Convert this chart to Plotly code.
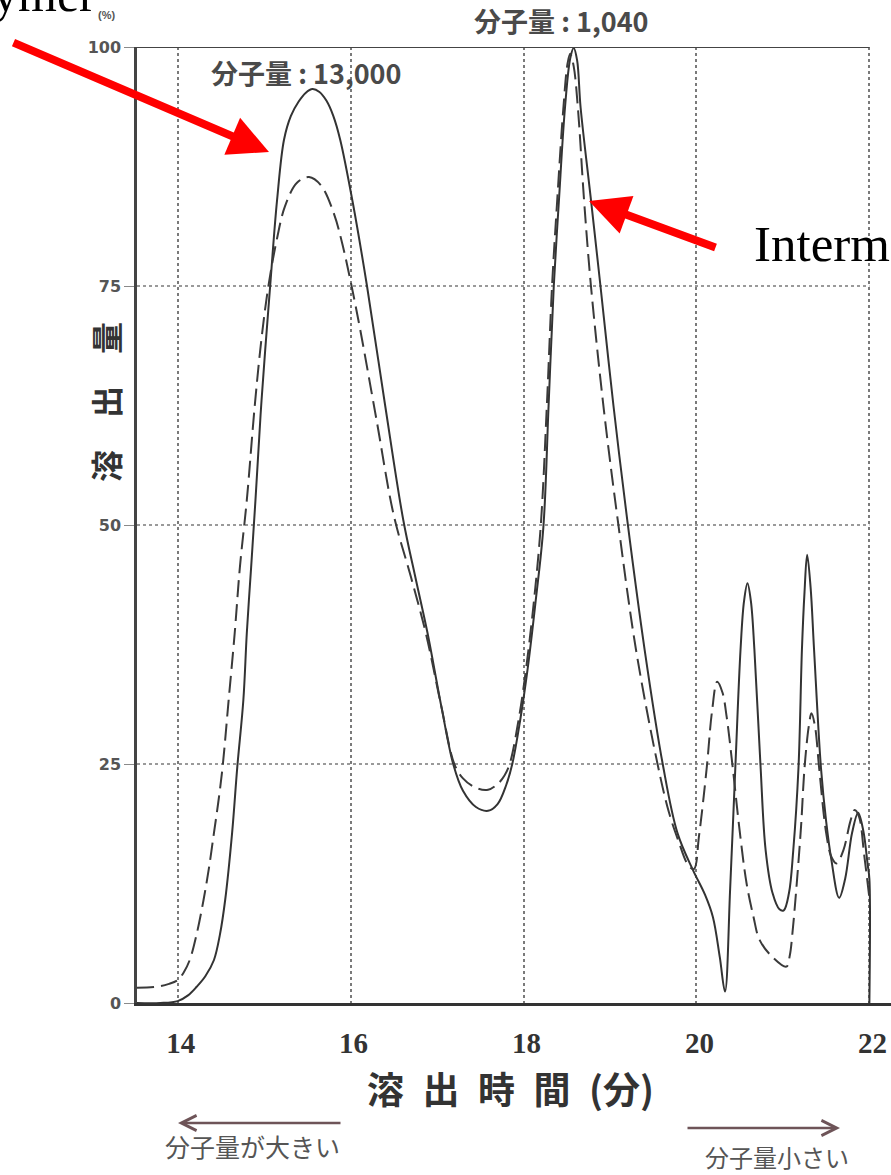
import plotly.graph_objects as go

# ---------------- data ----------------
time_solid = [13.53, 13.80, 14.00, 14.12, 14.22, 14.32, 14.42, 14.49, 14.55, 14.63,
              14.69, 14.76, 14.80, 14.85, 14.90, 14.97, 15.07, 15.15, 15.23, 15.31,
              15.40, 15.48, 15.56, 15.64, 15.72, 15.80, 15.88, 16.03, 16.19, 16.40,
              16.61, 16.75, 16.89, 17.05, 17.19, 17.30, 17.45, 17.59, 17.70, 17.80,
              17.87, 17.96, 18.05, 18.14, 18.23, 18.29, 18.35, 18.41, 18.48, 18.54,
              18.58, 18.62, 18.66, 18.78, 18.89, 19.04, 19.20, 19.40, 19.61, 19.78,
              19.96, 20.10, 20.19, 20.27, 20.33, 20.39, 20.45, 20.51, 20.55, 20.59,
              20.63, 20.67, 20.74, 20.80, 20.88, 20.96, 21.01, 21.07, 21.12, 21.18,
              21.22, 21.25, 21.28, 21.32, 21.36, 21.44, 21.50, 21.56, 21.65, 21.72,
              21.80, 21.87, 21.93, 21.98, 22.00, 22.00]
signal_solid = [0.0, 0.0, 0.2, 0.8, 1.7, 2.8, 4.5, 7.2, 10.8, 17.8,
                24.7, 31.7, 38.7, 45.6, 52.6, 63.0, 75.0, 84.0, 90.3, 92.8,
                94.3, 95.2, 95.6, 95.3, 94.4, 92.8, 90.3, 83.5, 75.0, 62.5,
                50.5, 44.5, 38.7, 31.0, 24.9, 22.2, 20.5, 20.1, 20.8, 22.8,
                25.0, 29.5, 35.1, 42.0, 49.8, 62.5, 75.0, 84.0, 93.7, 98.8,
                99.9, 98.6, 93.7, 84.0, 75.0, 62.5, 50.5, 37.0, 25.0, 17.8,
                13.9, 11.3, 9.0, 4.8, 1.2, 12.0, 24.7, 37.0, 42.0, 43.9,
                42.0, 37.0, 25.0, 16.0, 11.5, 9.8, 9.7, 11.5, 16.0, 24.6,
                37.0, 43.0, 46.9, 43.5, 37.0, 24.6, 19.0, 15.0, 11.0, 13.0,
                17.8, 19.9, 18.0, 14.5, 13.0, 0.0]

time_dashed = [13.53, 13.76, 13.90, 14.00, 14.07, 14.14, 14.22, 14.30, 14.36, 14.42,
               14.47, 14.52, 14.59, 14.66, 14.72, 14.80, 14.89, 14.97, 15.05, 15.15,
               15.24, 15.38, 15.52, 15.66, 15.81, 15.91, 16.00, 16.11, 16.30, 16.50,
               16.70, 16.87, 17.05, 17.20, 17.30, 17.45, 17.59, 17.70, 17.78, 17.84,
               17.95, 18.03, 18.12, 18.20, 18.27, 18.33, 18.39, 18.46, 18.51, 18.54,
               18.58, 18.63, 18.70, 18.78, 18.93, 19.09, 19.30, 19.55, 19.68, 19.79,
               19.90, 19.97, 20.03, 20.12, 20.18, 20.24, 20.30, 20.35, 20.42, 20.50,
               20.58, 20.66, 20.73, 20.88, 21.04, 21.08, 21.11, 21.16, 21.21, 21.25,
               21.30, 21.33, 21.37, 21.42, 21.50, 21.56, 21.62, 21.70, 21.78, 21.83,
               21.88, 21.94, 22.00]
signal_dashed = [1.6, 1.7, 2.0, 2.4, 3.2, 4.5, 7.2, 10.8, 14.0, 17.8,
                 21.0, 24.7, 31.7, 38.7, 45.6, 52.6, 62.3, 69.5, 75.0, 80.0,
                 83.3, 85.8, 86.4, 85.5, 82.5, 79.2, 75.5, 70.5, 61.0, 51.0,
                 44.5, 38.7, 31.0, 25.0, 23.5, 22.5, 22.3, 22.9, 23.8, 25.0,
                 30.0, 35.0, 42.0, 50.0, 62.5, 75.0, 84.0, 93.5, 98.3, 99.3,
                 98.0, 93.5, 84.0, 75.0, 62.0, 50.5, 37.0, 25.0, 20.0, 17.0,
                 14.5, 14.0, 17.5, 24.7, 30.5, 33.6, 32.5, 29.9, 24.6, 18.0,
                 12.5, 9.0, 6.6, 4.8, 3.8, 5.0, 7.3, 12.5, 18.5, 24.6,
                 29.0, 30.3, 29.0, 24.5, 17.8, 15.3, 14.6, 16.0, 19.0, 20.2,
                 19.5, 15.5, 11.0]

x_tick_vals = [14, 16, 18, 20, 22]
x_tick_text = ["14", "16", "18", "20", "22"]
y_tick_vals = [0, 25, 50, 75, 100]
y_tick_text = ["0", "25", "50", "75", "100"]

X_MIN, X_END, X_VIEW_MAX = 13.53, 22.0, 22.25

# ---------------- layout geometry ----------------
W, H = 891, 1175
L, R, T, B = 137, 0, 47, 172
PW, PH = W - L - R, H - T - B


def px(X):
    return (X - L) / PW


def py(Y):
    return (H - B - Y) / PH


CJK = "Noto Sans CJK JP"
SERIF = "Liberation Serif"
GRID = "#7a7a7a"

fig = go.Figure()
fig.add_trace(go.Scatter(
    x=time_solid, y=signal_solid, mode="lines", name="solid",
    line=dict(color="#333333", width=2, shape="spline", smoothing=1.0),
    hoverinfo="skip"))
fig.add_trace(go.Scatter(
    x=time_dashed, y=signal_dashed, mode="lines", name="dashed",
    line=dict(color="#3a3a3a", width=2, dash="17px,7px", shape="spline", smoothing=1.0),
    hoverinfo="skip"))

fig.update_layout(
    width=W, height=H,
    margin=dict(l=L, r=R, t=T, b=B, pad=0),
    paper_bgcolor="white", plot_bgcolor="white",
    showlegend=False,
    xaxis=dict(range=[X_MIN, X_VIEW_MAX], tickvals=x_tick_vals, ticktext=x_tick_text,
               showline=True, linecolor="#333333", linewidth=3, ticks="",
               showgrid=True, gridcolor=GRID, griddash="dot", gridwidth=1.5, zeroline=False,
               ticklabelstandoff=12, ticklabelshift=3,
               tickfont=dict(family=SERIF, size=29, color="#333333", weight="bold")),
    yaxis=dict(range=[0, 100], tickvals=y_tick_vals, ticktext=y_tick_text,
               showline=True, linecolor="#444444", linewidth=2.5,
               showgrid=False, zeroline=False,
               ticks="outside", ticklen=10, tickcolor="#8a8a8a", tickwidth=1,
               tickfont=dict(family="DejaVu Sans", size=16, color="#555555", weight="bold")),
)

# horizontal dotted grid, ending at the last time gridline (22 min)
for v in y_tick_vals[1:-1]:
    fig.add_shape(type="line", xref="x", yref="y", x0=X_MIN, x1=X_END, y0=v, y1=v,
                  layer="below", line=dict(color=GRID, width=1.5, dash="dot"))
# top frame line
fig.add_shape(type="line", xref="x", yref="y", x0=X_MIN, x1=X_END, y0=100, y1=100,
              line=dict(color="#444444", width=2))


def label(text, X, Y, size, color="#444444", family=CJK, weight="normal", angle=0,
          xanchor="center"):
    return dict(text=text, x=px(X), y=py(Y), xref="paper", yref="paper",
                xanchor=xanchor, yanchor="middle", showarrow=False, textangle=angle,
                font=dict(family=family, size=size, color=color, weight=weight))


def arrow(tip, tail, color, width, head, size=1.0):
    return dict(text="", x=px(tip[0]), y=py(tip[1]), xref="paper", yref="paper",
                showarrow=True, ax=tail[0] - tip[0], ay=tail[1] - tip[1],
                arrowhead=head, arrowsize=size, arrowwidth=width,
                arrowcolor=color, standoff=0)


ann = [
    label("分子量 : 13,000", 306, 72, 27, color="#4a4a4a", weight="bold"),
    label("分子量 : 1,040", 561, 20, 27, color="#4a4a4a", weight="bold"),
    label("(%)", 106, 15, 11, color="#555555", family="Liberation Sans", weight="bold"),
    label("溶\u2003出\u2003量", 105, 402, 32, color="#333333", weight="bold", angle=-90),
    label("溶\u2002出\u2002時\u2002間\u2002(分)", 510, 1088, 37, color="#333333", weight="bold"),
    label("分子量が大きい", 252, 1146, 25, color="#555555"),
    label("分子量小さい", 777, 1156, 24, color="#555555"),
    arrow((178, 1123), (342, 1123), "#6e5458", 2.5, 5, 1.2),
    arrow((840, 1128), (686, 1128), "#6e5458", 2.5, 5, 1.2),
    arrow((269, 152), (12, 42), "#ff0000", 8, 2, 1.0),
    arrow((589, 201), (717, 248), "#ff0000", 8, 2, 1.0),
    label("ymer", 98, -6, 50, color="#000000", family=SERIF, xanchor="right"),
    label("Interm", 752, 244, 51, color="#000000", family=SERIF, xanchor="left"),
]

fig.update_layout(annotations=ann)

fig.write_html("out.html",
               config={"displayModeBar": False},
               post_script="document.body.style.margin='0px';"
                           "document.body.style.overflow='hidden';")
